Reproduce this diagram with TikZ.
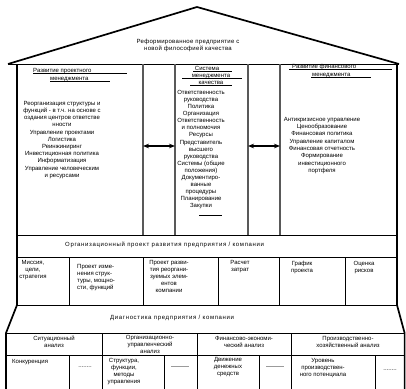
\documentclass[tikz,border=0pt]{standalone}
\usepackage{fontspec}
\setmainfont{Liberation Sans}
\usetikzlibrary{arrows.meta}
\newlength{\du}
\setlength{\du}{1pt}
\tikzset{
  wall/.style={line width=1.7\du, line join=miter},
  grid/.style={line width=0.6\du},
  colline/.style={line width=1.3\du, draw=black!65},
  uline/.style={line width=0.5\du},
  lbl/.style={font=\fontsize{6}{7.1}\selectfont, inner sep=0pt, align=center},
  wide/.style={font=\fontsize{6}{7.1}\selectfont\addfontfeature{LetterSpace=11}},
  dblarrow/.style={line width=1.1\du, {Stealth[length=6pt,width=4.6pt]}-{Stealth[length=6pt,width=4.6pt]}},
}

\begin{document}
\begin{tikzpicture}
\pgftransformxscale{1.000000}
\pgftransformyscale{-1.000000}
\useasboundingbox (0\du,0\du) rectangle (406\du,388\du);
% roof
\draw[wall] (8\du,64\du)--(197\du,7\du)--(399\du,64\du);
\draw[grid] (8\du,64\du)--(399\du,64\du);
\node[lbl, font=\fontsize{6}{7.1}\selectfont\addfontfeature{LetterSpace=5}] (roof) at (188\du,45.5\du){Реформированное предприятие с\\новой философией качества};
% walls
\draw[wall] (17\du,64\du)--(17\du,305\du)--(6\du,333\du)--(6\du,392\du);
\draw[wall] (397\du,64\du)--(397\du,305\du)--(404.6\du,333\du)--(404.6\du,392\du);
% floors
\draw[grid] (17\du,235\du)--(397\du,235\du);
\draw[grid] (17\du,257\du)--(397\du,257\du);
\draw[line width=1\du] (17\du,305\du)--(397\du,305\du);
\draw[grid] (6\du,333\du)--(404.6\du,333\du);
\draw[grid] (6\du,355\du)--(404.6\du,355\du);
% columns
\foreach \cx in {143,175,248,280} \draw[colline] (\cx\du,64\du)--(\cx\du,235\du);
\foreach \cx in {69,143,218,279,345} \draw[grid] (\cx\du,257\du)--(\cx\du,305\du);
\foreach \cx in {102,197,291} \draw[grid] (\cx\du,333\du)--(\cx\du,392\du);
\foreach \cx in {69,164,259,375} \draw[grid] (\cx\du,355\du)--(\cx\du,392\du);
% arrows between the columns
\coordinate (pmR) at (143\du,146\du);
\coordinate (qmL) at (175\du,146\du);
\coordinate (qmR) at (248\du,146\du);
\coordinate (fmL) at (280\du,146\du);
\draw[dblarrow] (pmR)--(qmL);
\draw[dblarrow] (qmR)--(fmL);
% project management
\node[lbl, anchor=base west] (pmHeadA) at (33\du,72\du){Развитие проектного};
\node[lbl, anchor=base west] (pmHeadB) at (50\du,80\du){менеджмента};
\draw[uline] (33\du,73.5\du)--(127\du,73.5\du);
\draw[uline] (50\du,81.5\du)--(110\du,81.5\du);
\node[lbl, anchor=north, font=\fontsize{6}{7.2}\selectfont] (pmBody) at (62\du,101\du){Реорганизация структуры и\\функций - в т.ч. на основе с\\оздания центров ответстве\\нности\\Управление проектами\\Логистика\\Реинжиниринг\\Инвестиционная политика\\Информатизация\\Управление человеческим\\и ресурсами};
% quality system
\node[lbl, anchor=base] (qmHeadA) at (207\du,70\du){Система};
\node[lbl, anchor=base] (qmHeadB) at (211\du,77\du){менеджмента};
\node[lbl, anchor=base] (qmHeadC) at (211\du,84\du){качества};
\draw[uline] (193\du,71.5\du)--(232\du,71.5\du);
\draw[uline] (182\du,78.5\du)--(242\du,78.5\du);
\draw[uline] (190\du,85.5\du)--(232\du,85.5\du);
\node[lbl, anchor=north] (qmBody) at (201\du,90\du){Ответственность\\руководства\\Политика\\Организация\\Ответственность\\и полномочия\\Ресурсы\\Представитель\\высшего\\руководства\\Системы (общие\\положения)\\Документиро-\\ванные\\процедуры\\Планирование\\Закупки};
\draw[uline] (199\du,215\du)--(222\du,215\du);
% financial management
\node[lbl, anchor=base west] (fmHeadA) at (292\du,68\du){Развитие финансового};
\node[lbl, anchor=base west] (fmHeadB) at (312\du,76\du){менеджмента};
\draw[uline] (289\du,69.5\du)--(392\du,69.5\du);
\draw[uline] (311\du,77.5\du)--(371\du,77.5\du);
\node[lbl, anchor=north, font=\fontsize{6}{7.3}\selectfont] (fmBody) at (322\du,117\du){Антикризисное управление\\Ценообразование\\Финансовая политика\\Управление капиталом\\Финансовая отчетность\\Формирование\\инвестиционного\\портфеля};
% organisational project
\node[lbl, wide, anchor=west] (orgTitle) at (65\du,245\du){Организационный проект развития предприятия / компании};
\node[lbl, anchor=north] (mission) at (33\du,260\du){Миссия,\\цели,\\стратегия};
\node[lbl, anchor=north west, align=left] (changeProj) at (77\du,264\du){Проект изме-\\нения струк-\\туры, мощно-\\сти, функций};
\node[lbl, anchor=north] (devProj) at (169\du,260\du){Проект разви-\\тия реоргани-\\зуемых элем-\\ентов\\компании};
\node[lbl, anchor=north] (costs) at (240\du,260\du){Расчет\\затрат};
\node[lbl, anchor=north] (schedule) at (302\du,261\du){График\\проекта};
\node[lbl, anchor=north] (risks) at (364\du,261\du){Оценка\\рисков};
% diagnostics
\node[lbl, wide, anchor=west] (diagTitle) at (110\du,318\du){Диагностика предприятия / компании};
\node[lbl, anchor=north] (sitHead) at (54\du,336\du){Ситуационный\\анализ};
\node[lbl, anchor=north] (orgHead) at (150\du,335\du){Организационно-\\управленческий\\анализ};
\node[lbl, anchor=north] (finHead) at (244\du,336\du){Финансово-экономи-\\ческий анализ};
\node[lbl, anchor=north] (prodHead) at (348\du,336\du){Производственно-\\хозяйственный анализ};
\node[lbl, anchor=north west] (compet) at (12\du,359\du){Конкуренция};
\node[lbl] (dotsA) at (85\du,367\du){........};
\node[lbl, anchor=north] (struct) at (124\du,358\du){Структура,\\функции,\\методы\\управления};
\node[lbl] (dashA) at (180\du,368\du){———};
\node[lbl, anchor=north] (cash) at (228\du,357\du){Движение\\денежных\\средств};
\node[lbl] (dashB) at (275\du,368\du){———};
\node[lbl, anchor=north] (level) at (323\du,358\du){Уровень\\производствен-\\ного потенциала};
\node[lbl] (dotsB) at (390\du,370\du){........};
\end{tikzpicture}
\end{document}
